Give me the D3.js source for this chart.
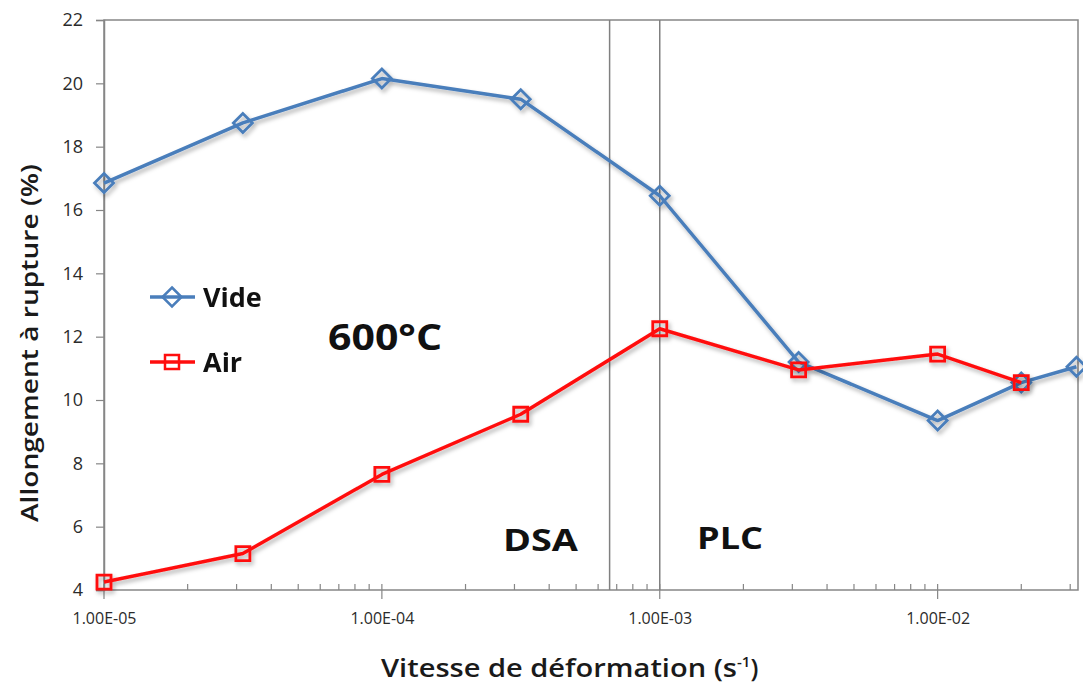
<!DOCTYPE html>
<html><head><meta charset="utf-8">
<script src="https://cdn.jsdelivr.net/npm/d3@7"></script>
<style>body{margin:0;background:#fff}svg{display:block}text{font-family:"Open Sans",sans-serif}</style>
</head><body>
<svg id="c" width="1083" height="686"></svg>
<script>
const rates = [1e-5, 3.16e-5, 1e-4, 3.16e-4, 1e-3, 3.16e-3, 1e-2, 2e-2, 3.16e-2];
const vide = [16.85, 18.75, 20.15, 19.5, 16.45, 11.2, 9.35, 10.55, 11.05];
const airRates = [1e-5, 3.16e-5, 1e-4, 3.16e-4, 1e-3, 3.16e-3, 1e-2, 2e-2];
const air = [4.25, 5.15, 7.65, 9.55, 12.25, 10.95, 11.45, 10.55];
const yTicks = [4, 6, 8, 10, 12, 14, 16, 18, 20, 22];
const xMajor = [1e-5, 1e-4, 1e-3, 1e-2];
const xTickLabels = ["1.00E-05", "1.00E-04", "1.00E-03", "1.00E-02"];
const vLines = [6.6e-4, 1e-3];
const seriesNames = ["Vide", "Air"];

const svg = d3.select("#c");
const L = 104, R = 1078, T = 20, B = 590;
const x = d3.scaleLog().domain([1e-5, 3.2e-2]).range([L, R]);
const y = d3.scaleLinear().domain([4, 22]).range([B, T]);
const axisCol = "#868686";

const defs = svg.append("defs");
const f = defs.append("filter").attr("id", "sh").attr("x", "-20%").attr("y", "-20%").attr("width", "140%").attr("height", "140%");
f.append("feDropShadow").attr("dx", 2).attr("dy", 3).attr("stdDeviation", 2).attr("flood-color", "#000").attr("flood-opacity", 0.3);

// frame
svg.append("rect").attr("x", L).attr("y", T).attr("width", R - L).attr("height", B - T)
  .attr("fill", "none").attr("stroke", axisCol).attr("stroke-width", 1.5);

// y axis
const ya = svg.append("g").attr("transform", `translate(${L},0)`)
  .call(d3.axisLeft(y).tickValues(yTicks).tickSize(8).tickPadding(13).tickFormat(d3.format("d")));
ya.attr("font-size", null);
ya.select(".domain").attr("stroke", axisCol).attr("stroke-width", 1.5);
ya.selectAll(".tick line").attr("stroke", axisCol).attr("stroke-width", 1.2);
ya.selectAll(".tick text").attr("fill", "#2b2b2b").style("font-size", "18px");

// x axis minor ticks (inside)
const minors = [];
for (let e = -5; e <= -2; e++) for (let m = 2; m <= 9; m++) { const v = m * Math.pow(10, e); if (v <= 3.2e-2) minors.push(v); }
svg.append("g").selectAll("line").data(minors).join("line")
  .attr("x1", d => x(d)).attr("x2", d => x(d)).attr("y1", B).attr("y2", B - 6)
  .attr("stroke", axisCol).attr("stroke-width", 1.2);
const xa = svg.append("g").attr("transform", `translate(0,${B})`)
  .call(d3.axisBottom(x).tickValues(xMajor).tickSize(0).tickPadding(22).tickFormat((d, i) => xTickLabels[i]));
xa.attr("font-size", null);
xa.select(".domain").remove();
xa.selectAll(".tick text").attr("fill", "#2b2b2b").style("font-size", "17px").attr("textLength", 64).attr("lengthAdjust", "spacingAndGlyphs");
svg.append("g").selectAll("line").data(xMajor).join("line")
  .attr("x1", d => x(d)).attr("x2", d => x(d)).attr("y1", B - 6).attr("y2", B + 9)
  .attr("stroke", axisCol).attr("stroke-width", 1.2);

// vertical lines
svg.append("g").selectAll("line").data(vLines).join("line")
  .attr("x1", d => x(d)).attr("x2", d => x(d)).attr("y1", T).attr("y2", B)
  .attr("stroke", "#808080").attr("stroke-width", 1.5);

// axis titles
svg.append("text").attr("transform", `translate(38,${(T + B) / 2 + 38}) rotate(-90)`)
  .attr("text-anchor", "middle").style("font-size", "23px").style("font-weight", "600").attr("fill", "#1a1a1a")
  .attr("textLength", 358).attr("lengthAdjust", "spacingAndGlyphs").text("Allongement à rupture (%)");
const xt = svg.append("text").attr("x", 381).attr("y", 677)
  .style("font-size", "25px").style("font-weight", "600").attr("fill", "#1a1a1a");
xt.append("tspan").attr("textLength", 356).attr("lengthAdjust", "spacingAndGlyphs").text("Vitesse de déformation (s");
xt.append("tspan").attr("dy", -10).style("font-size", "15px").text("-1");
xt.append("tspan").attr("dy", 10).text(")");

// annotations
svg.append("text").attr("x", 328).attr("y", 350).style("font-size", "36px").style("font-weight", "700").attr("fill", "#111")
  .attr("textLength", 114).attr("lengthAdjust", "spacingAndGlyphs").text("600°C");
svg.append("text").attr("x", 503).attr("y", 551).style("font-size", "30px").style("font-weight", "700").attr("fill", "#111")
  .attr("textLength", 75).attr("lengthAdjust", "spacingAndGlyphs").text("DSA");
svg.append("text").attr("x", 697).attr("y", 549).style("font-size", "30px").style("font-weight", "700").attr("fill", "#111")
  .attr("textLength", 66).attr("lengthAdjust", "spacingAndGlyphs").text("PLC");

const blue = "#4a7ebb", red = "#ff0d0d";
const diamond = d3.symbol().type(d3.symbolDiamond2).size(230);
const square = d3.symbol().type(d3.symbolSquare2).size(250);
const line = d3.line().x(d => x(d[0])).y(d => y(d[1]));

function series(xs, ys, col, sym) {
  const g = svg.append("g").attr("filter", "url(#sh)");
  const pts = xs.map((v, i) => [v, ys[i]]);
  g.append("path").attr("d", line(pts)).attr("fill", "none").attr("stroke", col).attr("stroke-width", 3.5).attr("stroke-linejoin", "round");
  g.selectAll("path.m").data(pts).join("path").attr("class", "m")
    .attr("transform", d => `translate(${x(d[0])},${y(d[1])})`)
    .attr("d", sym).attr("fill", "none").attr("stroke", col).attr("stroke-width", 2.8);
}
series(rates, vide, blue, diamond);
series(airRates, air, red, square);

// legend
const leg = [{ n: seriesNames[0], c: blue, s: diamond, y: 297 }, { n: seriesNames[1], c: red, s: square, y: 362 }];
leg.forEach(d => {
  const g = svg.append("g");
  g.append("line").attr("x1", 150).attr("x2", 195).attr("y1", d.y).attr("y2", d.y).attr("stroke", d.c).attr("stroke-width", 3.5);
  g.append("path").attr("transform", `translate(172,${d.y})`).attr("d", d.s).attr("fill", "none").attr("stroke", d.c).attr("stroke-width", 2.5);
  g.append("text").attr("x", 203).attr("y", d.y + 10).style("font-size", "27px").style("font-weight", "700").attr("fill", "#111").text(d.n);
});
</script>
</body></html>
